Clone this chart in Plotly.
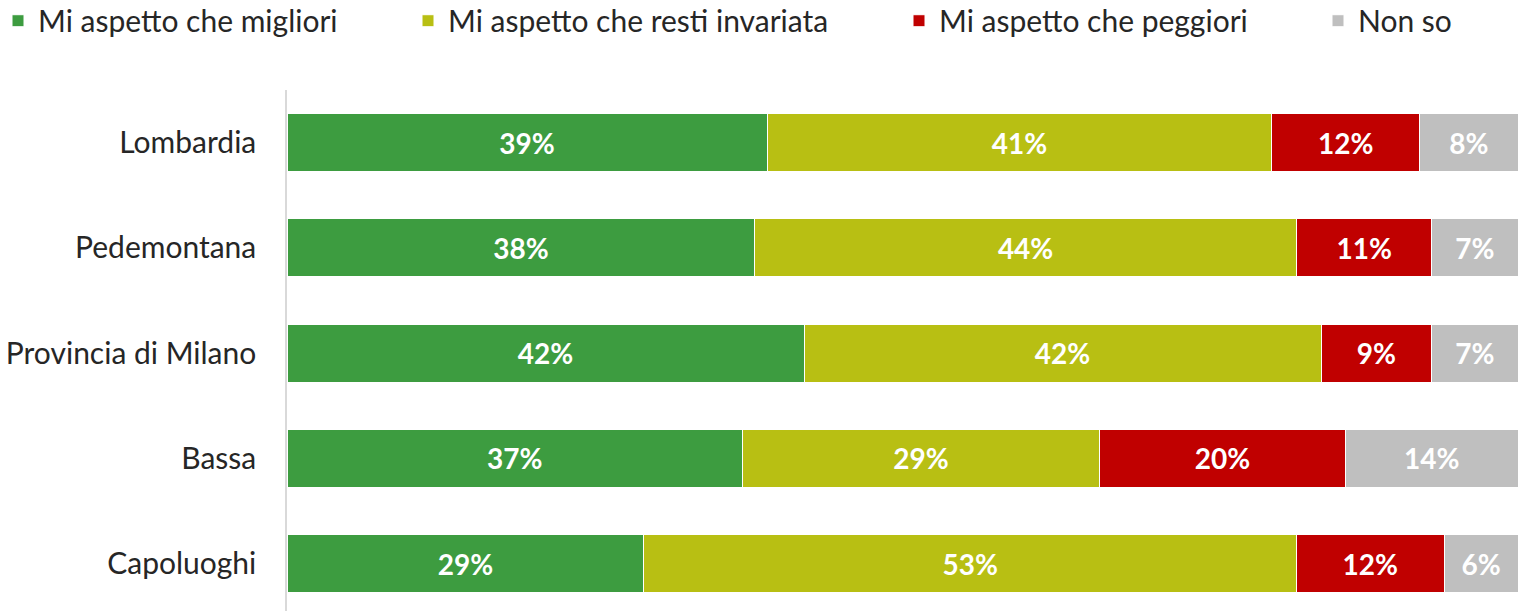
import plotly.graph_objects as go

categories = ["Lombardia", "Pedemontana", "Provincia di Milano", "Bassa", "Capoluoghi"]
migliori = [39, 38, 42, 37, 29]
invariata = [41, 44, 42, 29, 53]
peggiori = [12, 11, 9, 20, 12]
non_so = [8, 7, 7, 14, 6]

series = [
    ("Mi aspetto che migliori", migliori, "#3D9C40"),
    ("Mi aspetto che resti invariata", invariata, "#B8BF13"),
    ("Mi aspetto che peggiori", peggiori, "#C00000"),
    ("Non so", non_so, "#BFBFBF"),
]

FONT = "Lato"

# plot area in pixels: x 287..1518, y 90..611
PLOT_L, PLOT_W = 287, 1231
legend_px = [-2, 408, 899, 1318]

fig = go.Figure()
for i, (name, vals, color) in enumerate(series):
    fig.add_trace(go.Bar(
        y=categories,
        x=vals,
        name=name,
        orientation="h",
        marker=dict(color=color, line=dict(color="white", width=1)),
        text=[f"{v}%" for v in vals],
        textposition="inside",
        insidetextanchor="middle",
        textfont=dict(family=FONT, size=28, color="white", weight="bold"),
        hoverinfo="skip",
        legend="legend" if i == 0 else f"legend{i + 1}",
    ))

legend_common = dict(
    orientation="h",
    yanchor="middle",
    y=1.133,
    xanchor="left",
    font=dict(family=FONT, size=30, color="#262626"),
    bgcolor="rgba(0,0,0,0)",
)
legends = {}
for i, px in enumerate(legend_px):
    key = "legend" if i == 0 else f"legend{i + 1}"
    legends[key] = dict(legend_common, x=(px - PLOT_L) / PLOT_W)

fig.update_layout(
    barmode="stack",
    bargap=0.45,
    width=1518,
    height=611,
    margin=dict(l=287, r=0, t=90, b=0, autoexpand=False),
    paper_bgcolor="white",
    plot_bgcolor="white",
    showlegend=True,
    uniformtext=dict(mode="show", minsize=10),
    xaxis=dict(range=[0, 100], visible=False, fixedrange=True),
    yaxis=dict(
        categoryorder="array",
        categoryarray=categories,
        range=[4.45, -0.5],
        showline=True,
        linecolor="#D9D9D9",
        linewidth=1.5,
        showgrid=False,
        zeroline=False,
        ticks="",
        ticklabelstandoff=23,
        automargin=False,
        tickfont=dict(family=FONT, size=30, color="#262626"),
    ),
    **legends,
)

# drop the browser's default 8px body margin so the figure fills the window
fig.write_html(
    "out.html",
    config={"displayModeBar": False},
    post_script="document.body.style.margin='0';",
)
